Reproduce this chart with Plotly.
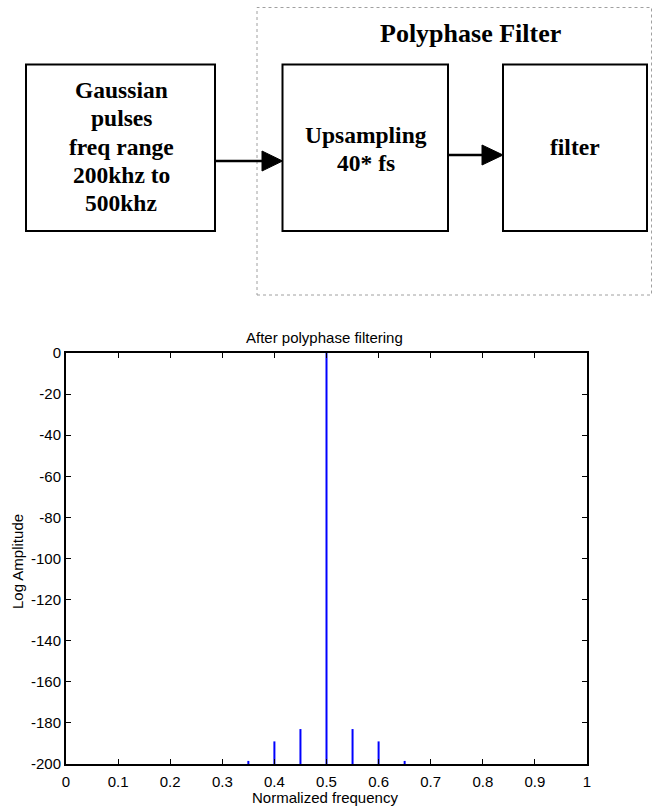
import plotly.graph_objects as go

# ---- data ----
freqs = [0.35, 0.40, 0.45, 0.50, 0.55, 0.60, 0.65]
amps = [-198.5, -189, -183, 0, -183, -189, -198.5]
floor_level = -200
x_tickvals = [0, 0.1, 0.2, 0.3, 0.4, 0.5, 0.6, 0.7, 0.8, 0.9, 1]
x_ticktext = ["0", "0.1", "0.2", "0.3", "0.4", "0.5", "0.6", "0.7", "0.8", "0.9", "1"]
y_tickvals = [0, -20, -40, -60, -80, -100, -120, -140, -160, -180, -200]
y_ticktext = ["0", "-20", "-40", "-60", "-80", "-100", "-120", "-140", "-160", "-180", "-200"]

box1_lines = ["Gaussian", "pulses", "freq range", "200khz to", "500khz"]
box2_lines = ["Upsampling", "40* fs"]
box3_lines = ["filter"]
group_title = "Polyphase Filter"

W, H = 653, 807


def px(x):
    return x / W


def py(y):
    return 1 - y / H


# stems built from data
sx, sy = [], []
for f, a in zip(freqs, amps):
    sx += [f, f, None]
    sy += [floor_level, a, None]

fig = go.Figure()
fig.add_trace(go.Scatter(x=sx, y=sy, mode="lines",
                         line=dict(color="#0000ff", width=2),
                         showlegend=False, hoverinfo="skip"))

SANS = "Liberation Sans, Arial, sans-serif"
SERIF = "Liberation Serif, Times New Roman, serif"

shapes = []
annotations = []

# dashed group box
shapes.append(dict(type="rect", xref="paper", yref="paper",
                   x0=px(257), x1=px(651.5), y0=py(295), y1=py(7.5),
                   line=dict(color="#a0a0a0", width=1, dash="dot")))
# boxes
for (x0, x1) in [(26, 215), (282.5, 448), (503, 647)]:
    shapes.append(dict(type="rect", xref="paper", yref="paper",
                       x0=px(x0), x1=px(x1), y0=py(231), y1=py(64.5),
                       line=dict(color="black", width=2)))
# arrows
for (xa, xb, xt, yy) in [(215, 262, 282.5, 161), (448, 482, 503, 155)]:
    shapes.append(dict(type="line", xref="paper", yref="paper",
                       x0=px(xa), x1=px(xb), y0=py(yy), y1=py(yy),
                       line=dict(color="black", width=2.5)))
    path = "M {},{} L {},{} L {},{} Z".format(px(xb), py(yy - 10), px(xt), py(yy),
                                              px(xb), py(yy + 10))
    shapes.append(dict(type="path", xref="paper", yref="paper", path=path,
                       fillcolor="black", line=dict(color="black", width=1)))


def add_text(txt, x, y, size, family, bold=False, angle=0):
    annotations.append(dict(text=("<b>%s</b>" % txt) if bold else txt,
                            x=px(x), y=py(y), xref="paper", yref="paper",
                            xanchor="center", yanchor="middle", showarrow=False,
                            textangle=angle,
                            font=dict(size=size, family=family, color="black")))


add_text(group_title, 470, 34, 26, SERIF, bold=True)
for i, t in enumerate(box1_lines):
    add_text(t, 121, 90 + i * 28.3, 23.5, SERIF, bold=True)
for i, t in enumerate(box2_lines):
    add_text(t, 366, 135 + i * 28, 23.5, SERIF, bold=True)
for t in box3_lines:
    add_text(t, 575, 147, 23.5, SERIF, bold=True)

# chart texts
add_text("After polyphase filtering", 324, 337, 15, SANS)
add_text("Normalized frequency", 325, 797, 15, SANS)
add_text("Log Amplitude", 17, 562, 15, SANS, angle=-90)

axis_common = dict(showgrid=False, zeroline=False, showline=True, linecolor="black",
                   linewidth=2, mirror="ticks", ticks="inside", ticklen=5,
                   tickcolor="black", tickwidth=1,
                   tickfont=dict(family=SANS, size=15, color="black"))

fig.update_layout(
    width=W, height=H,
    margin=dict(l=0, r=0, t=0, b=0),
    paper_bgcolor="white", plot_bgcolor="white",
    xaxis=dict(domain=[px(66), px(587)], range=[0, 1], tickvals=x_tickvals,
               ticktext=x_ticktext, automargin=False, ticklabelstandoff=3,
               **axis_common),
    yaxis=dict(domain=[py(764), py(353)], range=[-200, 0], tickvals=y_tickvals,
               ticktext=y_ticktext, automargin=False, **axis_common),
    shapes=shapes, annotations=annotations,
)

fig.write_html("out.html")
